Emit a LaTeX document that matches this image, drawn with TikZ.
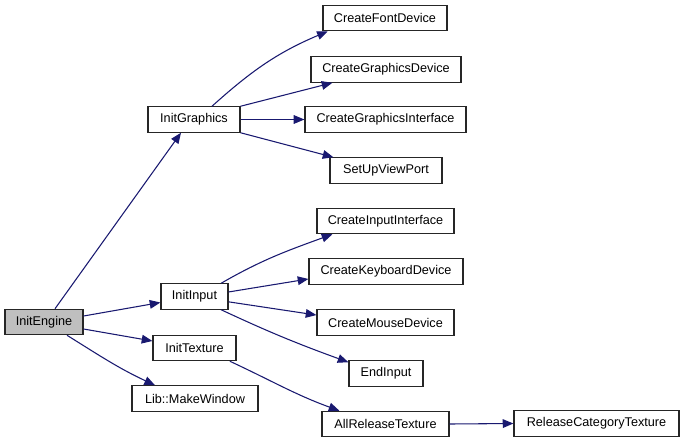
\documentclass[tikz,border=0pt]{standalone}
\usepackage{fontspec}
\setmainfont{Liberation Sans}
\usetikzlibrary{arrows.meta}
\definecolor{edgeblue}{HTML}{191970}
\definecolor{boxgray}{HTML}{BFBFBF}
\begin{document}
\begin{tikzpicture}[x=0.75pt,y=-0.75pt,
  box/.style={draw=black!85,line width=0.9pt,inner sep=0pt,minimum height=19pt,font=\fontsize{9.5pt}{11pt}\selectfont},
  edge/.style={draw=edgeblue,line width=0.8pt,-{Triangle[length=8pt,width=6.5pt]}}]
\useasboundingbox (0,0) rectangle (684,443);
\node[box,fill=boxgray,minimum width=58.5pt] (ie) at (44,322) {InitEngine};
\node[box,minimum width=69pt] (ig) at (194,119.5) {InitGraphics};
\node[box,minimum width=50.25pt] (ii) at (194.5,296.5) {InitInput};
\node[box,minimum width=62.25pt] (it) at (194.5,348) {InitTexture};
\node[box,minimum width=94.5pt] (mw) at (195,398.5) {Lib::MakeWindow};
\node[box,minimum width=93pt] (cfd) at (385,18) {CreateFontDevice};
\node[box,minimum width=112.5pt] (cgd) at (386,69.5) {CreateGraphicsDevice};
\node[box,minimum width=120.75pt] (cgi) at (385.5,119.5) {CreateGraphicsInterface};
\node[box,minimum width=84pt] (svp) at (386,170.5) {SetUpViewPort};
\node[box,minimum width=102.75pt] (cii) at (385.5,221) {CreateInputInterface};
\node[box,minimum width=115.5pt] (ckd) at (386,271.5) {CreateKeyboardDevice};
\node[box,minimum width=102.75pt] (cmd) at (385.5,322.5) {CreateMouseDevice};
\node[box,minimum width=55.5pt] (ei) at (386,373.5) {EndInput};
\node[box,minimum width=95.25pt] (art) at (385.5,424) {AllReleaseTexture};
\node[box,minimum width=123.75pt] (rct) at (596.5,423.5) {ReleaseCategoryTexture};

\draw[edge] ([xshift=8.25pt]ie.north) -- ([xshift=-9.75pt]ig.south);
\draw[edge] ([yshift=4.5pt]ie.east) -- ([yshift=-4.5pt]ii.west);
\draw[edge] ([yshift=-5.25pt]ie.east) -- ([yshift=5.25pt]it.west);
\draw[edge] ([xshift=17.25pt]ie.south) to[out=-32,in=155] ([xshift=-30pt]mw.north);

\draw[edge] ([xshift=13.5pt]ig.north) to[out=42,in=203] ([xshift=4pt]cfd.south west);
\draw[edge] (ig.north east) -- ([xshift=16.5pt]cgd.south west);
\draw[edge] (ig.east) -- (cgi.west);
\draw[edge] (ig.south east) -- ([xshift=3pt]svp.north west);

\draw[edge] ([xshift=20pt]ii.north) to[out=30,in=200] ([xshift=12pt]cii.south west);
\draw[edge] ([yshift=3.4pt]ii.east) -- ([yshift=-5.6pt]ckd.west);
\draw[edge] ([yshift=-4pt]ii.east) -- ([yshift=5.6pt]cmd.west);
\draw[edge] ([xshift=20pt]ii.south) to[out=-25,in=160] ([yshift=-1.5pt]ei.north west);

\draw[edge] ([xshift=-5pt]it.south east) to[out=-25,in=160] ([xshift=13.5pt]art.north west);
\draw[edge] (art.east) -- (rct.west);
\end{tikzpicture}
\end{document}
